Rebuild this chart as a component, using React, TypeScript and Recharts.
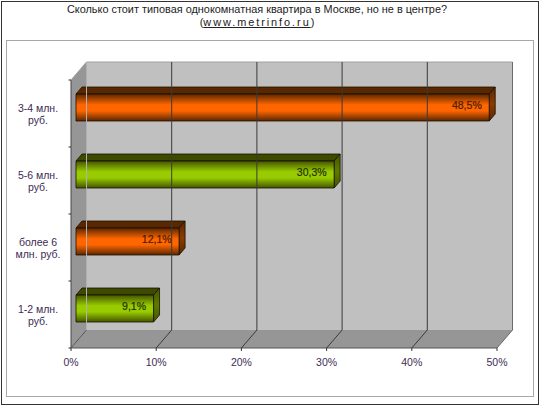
import React from 'react';
import { BarChart, Bar, XAxis, YAxis, ReferenceArea, ReferenceLine, LabelList } from 'recharts';

const categories = ['3-4 млн. руб.', '5-6 млн. руб.', 'более 6 млн. руб.', '1-2 млн. руб.'];
const categoryLines = [['3-4 млн.', 'руб.'], ['5-6 млн.', 'руб.'], ['более 6', 'млн. руб.'], ['1-2 млн.', 'руб.']];
const shares = [48.5, 30.3, 12.1, 9.1];
const valueTicks = [0, 10, 20, 30, 40, 50];
const barPalette = ['orange', 'green', 'orange', 'green'];

const data = categories.map((name, i) => ({ name, share: shares[i], tone: barPalette[i] }));

const FONT = '"Liberation Sans", Arial, sans-serif';
const TEXT = '#3d2c55';
const DX = 15.5;
const DY = -18;
const BAR_SHIFT_X = 5;
const BAR_SHIFT_Y = -6;
const FACE_X = 6;
const FACE_Y = -7;

const tones: Record<string, { top: string; side: string; label: string }> = {
  orange: { top: '#5a2800', side: '#8a3c00', label: '#4a1c00' },
  green: { top: '#3d4a00', side: '#5f7a00', label: '#263000' },
};

const Walls = (props: any) => {
  const { x, y, width, height } = props;
  const right = x + width;
  const bottom = y + height;
  const ticks = [0, 1, 2, 3, 4].map((i) => y + (height * i) / 4);
  return (
    <g>
      <rect x={x + DX} y={y + DY} width={width} height={height} fill="#c0c0c0" />
      <polygon points={`${x},${y} ${x + DX},${y + DY} ${x + DX},${bottom + DY} ${x},${bottom}`} fill="#969696" />
      <polygon points={`${x},${bottom} ${x + DX},${bottom + DY} ${right + DX},${bottom + DY} ${right},${bottom}`} fill="#969696" />
      <polyline points={`${x},${y} ${x + DX},${y + DY} ${right + DX},${y + DY}`} fill="none" stroke="#a0a0a0" strokeWidth={1} />
      <line x1={x} y1={y} x2={x} y2={bottom} stroke="#444" />
      <line x1={x} y1={bottom} x2={right} y2={bottom} stroke="#555" />
      {ticks.map((t) => <line key={t} x1={x - 2.5} y1={t} x2={x} y2={t} stroke="#333" />)}
    </g>
  );
};

const GridLine = (props: any) => {
  const x = props.x1;
  const top = Math.min(props.y1, props.y2);
  const bottom = Math.max(props.y1, props.y2);
  const first = x < 72;
  const last = x > 490;
  const wallStroke = first ? '#b0b0b0' : last ? '#6a6a6a' : '#3a3a3a';
  return (
    <g>
      <line x1={x + DX} y1={top + DY} x2={x + DX} y2={bottom + DY} stroke={wallStroke} strokeWidth={1} />
      <line x1={x} y1={bottom} x2={x + DX} y2={bottom + DY} stroke={first ? '#555' : last ? '#6a6a6a' : '#3a3a3a'} strokeWidth={1} />
    </g>
  );
};

const Bar3D = (props: any) => {
  const { x, y, width, height, payload } = props;
  const tone = tones[payload.tone];
  const l = x + BAR_SHIFT_X;
  const t = y + BAR_SHIFT_Y;
  const r = l + width;
  const b = t + height;
  return (
    <g stroke="#1a1000" strokeWidth={0.8} strokeLinejoin="round">
      <polygon points={`${l},${t} ${l + FACE_X},${t + FACE_Y} ${r + FACE_X},${t + FACE_Y} ${r},${t}`} fill={tone.top} />
      <polygon points={`${r},${t} ${r + FACE_X},${t + FACE_Y} ${r + FACE_X},${b + FACE_Y} ${r},${b}`} fill={`url(#side-${payload.tone})`} />
      <rect x={l} y={t} width={width} height={height} fill={`url(#face-${payload.tone})`} />
    </g>
  );
};

const ShareLabel = (props: any) => {
  const { x, y, width, height, value, index } = props;
  const fill = tones[barPalette[index]].label;
  return (
    <text x={x + width + BAR_SHIFT_X - 7.5} y={y + BAR_SHIFT_Y + height / 2 + 1} textAnchor="end" fontFamily={FONT} fontSize={10.5} fill={fill} stroke={fill} strokeWidth={0.2}>
      {String(value).replace('.', ',')}%
    </text>
  );
};

const CategoryTick = (props: any) => {
  const { y, index } = props;
  const lines = categoryLines[index];
  return (
    <text x={38} y={y - 2} textAnchor="middle" fontFamily={FONT} fontSize={10.5} fill={TEXT}>
      {lines.map((line, i) => <tspan key={line} x={38} dy={i === 0 ? 0 : 12}>{line}</tspan>)}
    </text>
  );
};

export default function App() {
  return (
    <div style={{ position: 'absolute', left: 0, top: 0, width: 540, height: 405, background: '#fff', overflow: 'hidden' }}>
      <div style={{ position: 'absolute', left: 1, top: 1, width: 536, height: 402, border: '1px solid #333' }} />
      <div style={{ position: 'absolute', left: 6, top: 40, width: 526, height: 355, border: '1px solid #a8a8a8' }} />
      <div style={{ position: 'absolute', left: 0, top: 3, width: 514, textAlign: 'center', fontFamily: FONT, fontSize: 10.9, lineHeight: '12.5px', color: '#222' }}>
        <div>Сколько стоит типовая однокомнатная квартира в Москве, но не в центре?</div>
        <div>(<span style={{ letterSpacing: 1.95, textDecoration: 'underline' }}>www.metrinfo.ru</span>)</div>
      </div>
      <div style={{ position: 'absolute', left: 0, top: 0 }}>
        <BarChart
          width={540}
          height={405}
          data={data}
          layout="vertical"
          margin={{ top: 80, right: 43, bottom: 27, left: 0 }}
          barSize={27}
        >
          <defs>
            {Object.entries({ orange: ['#5a2600', '#ff6600'], green: ['#435500', '#99cc00'] }).map(([k, [dark, light]]) => (
              <React.Fragment key={k}>
                <linearGradient id={`face-${k}`} x1="0" y1="0" x2="0" y2="1">
                  <stop offset="0%" stopColor={dark} />
                  <stop offset="40%" stopColor={light} />
                  <stop offset="62%" stopColor={light} />
                  <stop offset="100%" stopColor={dark} />
                </linearGradient>
                <linearGradient id={`side-${k}`} x1="0" y1="0" x2="0" y2="1">
                  <stop offset="0%" stopColor={dark} />
                  <stop offset="50%" stopColor={tones[k].side} />
                  <stop offset="100%" stopColor={dark} />
                </linearGradient>
              </React.Fragment>
            ))}
          </defs>
          <ReferenceArea x1={0} x2={50} shape={Walls} ifOverflow="visible" />
          {valueTicks.map((v) => (
            <ReferenceLine key={v} x={v} shape={GridLine} ifOverflow="visible" />
          ))}
          <XAxis
            type="number"
            domain={[0, 50]}
            ticks={valueTicks}
            tickFormatter={(v) => `${v}%`}
            interval={0}
            height={30}
            axisLine={false}
            tickLine={{ stroke: '#333' }}
            tickSize={3}
            tickMargin={8}
            tick={{ fontFamily: FONT, fontSize: 10.5, fill: TEXT }}
          />
          <YAxis type="category" dataKey="name" width={71} axisLine={false} tickLine={false} tick={CategoryTick} interval={0} />
          <Bar dataKey="share" shape={Bar3D} isAnimationActive={false}>
            <LabelList dataKey="share" content={ShareLabel} />
          </Bar>
        </BarChart>
      </div>
    </div>
  );
}
